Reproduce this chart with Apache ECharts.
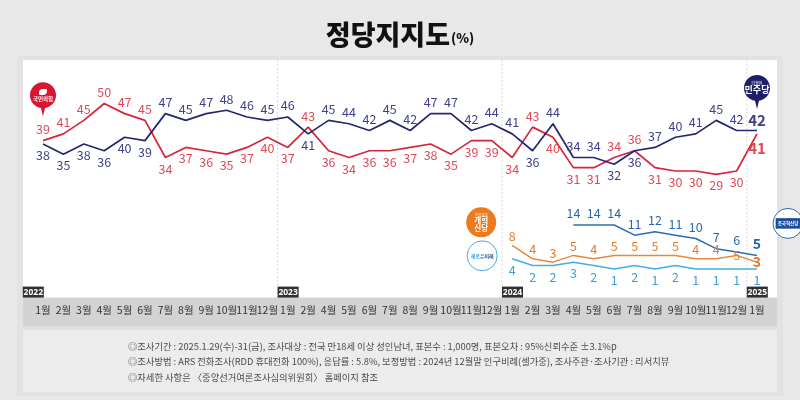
<!DOCTYPE html>
<html><head><meta charset="utf-8">
<script src="https://cdn.jsdelivr.net/npm/echarts/dist/echarts.min.js"></script>
<style>html,body{margin:0;padding:0;background:#e8e8e8}#c{width:800px;height:400px}</style>
</head><body><div id="c"></div>
<script>
// ---- data ----
const categories = [
  '2022.1','2022.2','2022.3','2022.4','2022.5','2022.6','2022.7','2022.8','2022.9','2022.10','2022.11','2022.12',
  '2023.1','2023.2','2023.4','2023.5','2023.6','2023.7','2023.8','2023.9','2023.10','2023.11','2023.12',
  '2024.1','2024.2','2024.3','2024.4','2024.5','2024.6','2024.7','2024.8','2024.9','2024.10','2024.11','2024.12',
  '2025.1'
];
const years = ['2022','2023','2024','2025'];
const pppValues = [39,41,45,50,47,45,34,37,36,35,37,40, 37,43,36,34,36,36,37,38,35,39,39, 34,43,40,31,31,34,36,31,30,30,29,30, 41];
const dpkValues = [38,35,38,36,40,39,47,45,47,48,46,45, 46,41,45,44,42,45,42,47,47,42,44, 41,36,44,34,34,32,36,37,40,41,45,42, 42];
const reformValues = [8,4,3,5,4,5,5,5,5,4,4,5,3];          // 개혁신당, from 2024.1
const newFutureValues = [4,2,2,3,2,1,2,1,2,1,1,1,1];       // 새로운미래, from 2024.1
const rebuildValues = [14,14,14,11,12,11,10,7,6,5];         // 조국혁신당, from 2024.4
const reformStart = '2024.1', newFutureStart = '2024.1', rebuildStart = '2024.4';
const footerLines = [
  '◎조사기간 : 2025.1.29(수)-31(금), 조사대상 : 전국 만18세 이상 성인남녀, 표본수 : 1,000명, 표본오차 : 95%신뢰수준 ±3.1%p',
  '◎조사방법 : ARS 전화조사(RDD 휴대전화 100%), 응답률 : 5.8%, 보정방법 : 2024년 12월말 인구비례(셀가중), 조사주관·조사기관 : 리서치뷰',
  '◎자세한 사항은 〈중앙선거여론조사심의위원회〉 홈페이지 참조'
];

// ---- helpers ----
function align(values, start){
  const s = categories.indexOf(start);
  return categories.map((c,i)=> (i>=s && i-s<values.length) ? values[i-s] : null);
}
const yearStarts = years.map(y => categories.findIndex(c => c.indexOf(y + '.') === 0));
const last = categories.length - 1;
const Y_MIN = -7.5, Y_MAX = 60;
const FONT = '"Noto Sans CJK KR", "Noto Sans", sans-serif';

const RED = '#d4253b', RED_L = '#df4a57';
const NAVY = '#26286f', NAVY_L = '#3f418d';
const ORANGE = '#e9883c', ORANGE_L = '#e07a2c';
const TEAL = '#2e6db5', TEAL_L = '#2a67ac';
const SKY = '#46ade2', SKY_L = '#3aa2d9';

const PIN = 'path://M13,0 C20.2,0 26,5.8 26,13 C26,19.5 21.2,24.9 15,25.8 L13,34 L11,25.8 C4.8,24.9 0,19.5 0,13 C0,5.8 5.8,0 13,0 Z';

function mainData(vals, other, isRed){
  return vals.map((v,i)=>{
    const top = isRed ? v >= other[i] : v > other[i];
    const d = {value: v, label: {position: top ? 'top' : 'bottom'}};
    if (i === last) { d.label.fontWeight = 'bold'; d.label.fontSize = 15; d.label.distance = top ? 3 : 7; }
    return d;
  });
}
function smallData(vals, pos, opts){
  opts = opts || {};
  return vals.map((v,i)=>{
    if (v === null) return null;
    const d = {value: v, label: {position: pos}};
    if (opts.inside && opts.inside.indexOf(categories[i]) >= 0) { d.label.position = 'inside'; }
    if (i === last && opts.boldLast) { d.label.fontWeight = 'bold'; d.label.fontSize = 14; }
    return d;
  });
}

const chart = echarts.init(document.getElementById('c'));
const baseLabel = {show: true, fontSize: 12.5, fontFamily: FONT, distance: 5};
const lineCommon = {type:'line', showSymbol:true, showAllSymbol:true, symbol:'circle', symbolSize:0.1, z:3,
                    labelLayout:{hideOverlap:false}};

chart.setOption({
  backgroundColor: '#e8e8e8',
  animation: false,
  title: {
    text: '{a|정당지지도}{b|(%)}',
    left: 'center', top: 16,
    textStyle: {rich: {
      a: {fontSize: 27, fontWeight: 900, color: '#111', fontFamily: FONT},
      b: {fontSize: 13, fontWeight: 900, color: '#111', fontFamily: FONT, padding: [8,0,0,1]}
    }}
  },
  graphic: [
    {type:'rect', z:-10, shape:{x:17, y:56, width:766, height:340}, style:{fill:'#e2e2e2'}},
    {type:'rect', z:-9, shape:{x:23, y:60, width:754, height:238}, style:{fill:'#ffffff'}},
    {type:'rect', z:-9, shape:{x:23, y:297.6, width:754, height:29}, style:{fill:'#d3d3d3'}},
    {type:'rect', z:-9, shape:{x:23, y:330, width:754, height:62}, style:{fill:'#ececec'}},
    ...footerLines.map((t,i)=>({type:'text', z:5, x:128, y:341.5 + i*15.5,
      style:{text:t, fill:'#4a4a4a', font:'9.3px ' + FONT}}))
  ],
  grid: {left: 32.8, right: 32.8, top: 69.75, bottom: 102.4},
  xAxis: [
    {type:'category', data: categories, boundaryGap: true,
     axisLine:{show:false}, axisTick:{show:false}, splitLine:{show:false},
     axisLabel:{interval:0, margin:7, fontSize:10.5, color:'#333', fontFamily: FONT,
       formatter: v => v.split('.')[1] + '월'}},
    {type:'value', min:-0.5, max: categories.length - 0.5, show:false}
  ],
  yAxis: {type:'value', min: Y_MIN, max: Y_MAX, show:false, splitLine:{show:false}},
  series: [
    {type:'custom', xAxisIndex:1, z:1, silent:true, clip:false,
     data: yearStarts.map((s,i)=>[s,i]),
     renderItem: function(params, api){
       const s = api.value(0), yi = api.value(1);
       const cs = params.coordSys;
       const b = api.coord([s - 0.5, Y_MIN]);
       const x = yi === 0 ? cs.x - 10 : b[0];
       const ch = [];
       if (yi > 0) ch.push({type:'line', shape:{x1:b[0], y1:cs.y - 10, x2:b[0], y2:b[1]},
                            style:{stroke:'#d6d6d6', lineWidth:1, lineDash:[2,2]}});
       ch.push({type:'rect', shape:{x:x, y:b[1]-11, width:21, height:11}, style:{fill:'#2f2f2f'}});
       ch.push({type:'text', x:x+10.5, y:b[1]-5.3, style:{text: years[yi], fill:'#fff',
                font:'bold 8.5px "Liberation Sans Narrow", "Noto Sans", sans-serif', align:'center', verticalAlign:'middle'}});
       return {type:'group', children: ch};
     }},
    Object.assign({}, lineCommon, {name:'국민의힘', data: mainData(pppValues, dpkValues, true),
     lineStyle:{color:RED, width:1.7}, itemStyle:{color:RED},
     label: Object.assign({}, baseLabel, {color: RED_L}),
     markPoint: {symbol: PIN, symbolSize:[26,34], symbolOffset:[0,-41.5], silent:true,
       itemStyle:{color:'#d9142d'},
       label:{offset:[0,-4], formatter:'{i|}\n{t|국민의힘}', rich:{
         i:{backgroundColor:'#fff', width:8, height:6, borderRadius:[4,1,4,1], align:'center'},
         t:{color:'#fff', fontSize:5.5, fontWeight:'bold', fontFamily:FONT, align:'center', padding:[1,0,0,0]}}},
       data:[{coord:[categories[0], pppValues[0]]}]}}),
    Object.assign({}, lineCommon, {name:'민주당', data: mainData(dpkValues, pppValues, false),
     lineStyle:{color:NAVY, width:1.7}, itemStyle:{color:NAVY},
     label: Object.assign({}, baseLabel, {color: NAVY_L}),
     markPoint: {symbol: PIN, symbolSize:[26,34], symbolOffset:[0,-38.5], silent:true,
       itemStyle:{color:'#1e2067'},
       label:{offset:[0,-4], formatter:'{s|더불어}\n{t|민주당}', rich:{
         s:{color:'#fff', fontSize:4, fontFamily:FONT, align:'center'},
         t:{color:'#fff', fontSize:9, fontWeight:'bold', fontFamily:FONT, align:'center'}}},
       data:[{coord:[categories[last], dpkValues[last]]}]}}),
    Object.assign({}, lineCommon, {name:'조국혁신당', data: smallData(align(rebuildValues, rebuildStart), 'top', {boldLast:true}),
     lineStyle:{color:TEAL, width:1.5}, itemStyle:{color:TEAL},
     label: Object.assign({}, baseLabel, {color: TEAL_L}),
     markPoint: {symbol:'circle', symbolSize:30, symbolOffset:[31,-32], silent:true,
       itemStyle:{color:'#fff', borderColor:TEAL, borderWidth:1},
       label:{formatter:'조국혁신당', color:'#fff', fontSize:4.5, fontWeight:'bold', fontFamily:FONT,
              backgroundColor:'#1f4c9c', padding:[3,2]},
       data:[{coord:[categories[last], rebuildValues[rebuildValues.length-1]]}]}}),
    Object.assign({}, lineCommon, {name:'개혁신당', data: smallData(align(reformValues, reformStart), 'top', {boldLast:true, inside:['2024.12','2025.1']}),
     lineStyle:{color:ORANGE, width:1.5}, itemStyle:{color:ORANGE},
     label: Object.assign({}, baseLabel, {color: ORANGE_L, distance:3}),
     markPoint: {symbol:'circle', symbolSize:30, symbolOffset:[-31,-23], silent:true,
       itemStyle:{color:'#ec7a1f'},
       label:{formatter:'{s|개혁신당}\n{t|개혁}\n{t|신당}', rich:{
         s:{color:'#fde3cc', fontSize:3.5, fontFamily:FONT, align:'center'},
         t:{color:'#fff', fontSize:7.5, fontWeight:'bold', fontFamily:FONT, align:'center', lineHeight:8}}},
       data:[{coord:[reformStart, reformValues[0]]}]}}),
    Object.assign({}, lineCommon, {name:'새로운미래', data: smallData(align(newFutureValues, newFutureStart), 'bottom'),
     lineStyle:{color:SKY, width:1.5}, itemStyle:{color:SKY},
     label: Object.assign({}, baseLabel, {color: SKY_L}),
     markPoint: {symbol:'circle', symbolSize:30, symbolOffset:[-30,-3], silent:true,
       itemStyle:{color:'#fff', borderColor:SKY, borderWidth:1},
       label:{formatter:'{a|새로운}{b|미래}', rich:{
         a:{color:'#3aa2d9', fontSize:5, fontWeight:'bold', fontFamily:FONT},
         b:{color:'#1f4c9c', fontSize:5, fontWeight:'bold', fontFamily:FONT}}},
       data:[{coord:[newFutureStart, newFutureValues[0]]}]}})
  ]
});
</script>
</body></html>
